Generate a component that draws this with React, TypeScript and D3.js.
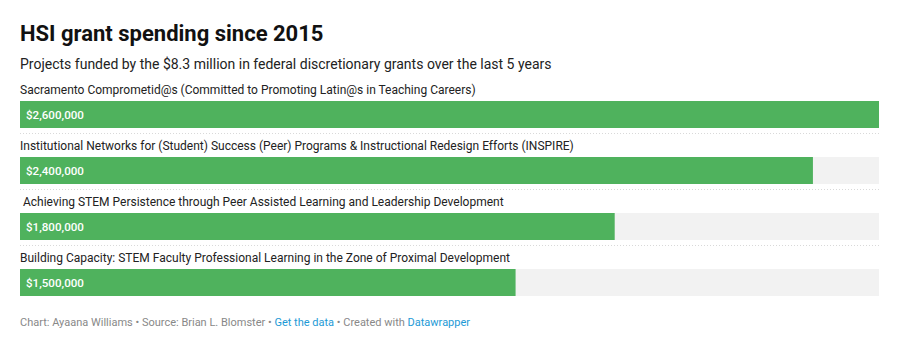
import React from 'react';
import { scaleLinear, scaleBand } from 'd3';

const width = 904;
const height = 363;
const margin = { left: 20, right: 25 };

const projects = [
  'Sacramento Comprometid@s (Committed to Promoting Latin@s in Teaching Careers)',
  'Institutional Networks for (Student) Success (Peer) Programs & Instructional Redesign Efforts (INSPIRE)',
  ' Achieving STEM Persistence through Peer Assisted Learning and Leadership Development',
  'Building Capacity: STEM Faculty Professional Learning in the Zone of Proximal Development',
];
const amounts = [2600000, 2400000, 1800000, 1500000];
const amountLabels = ['$2,600,000', '$2,400,000', '$1,800,000', '$1,500,000'];

const font = 'Roboto, sans-serif';

const App = () => {
  const innerWidth = width - margin.left - margin.right;
  const xScale = scaleLinear()
    .domain([0, Math.max(...amounts)])
    .range([0, innerWidth]);
  const rowScale = scaleBand()
    .domain(projects)
    .range([78, 302]);
  const rowH = rowScale.step();
  const barTop = 23;
  const barH = 27;

  return (
    <svg
      width={width}
      height={height}
      style={{ position: 'absolute', left: 0, top: 0, background: '#fff' }}
    >
      <text x={20} y={41} fontFamily={font} fontWeight={700} fontSize={22} fill="#111">
        HSI grant spending since 2015
      </text>
      <text x={20} y={69} fontFamily={font} fontSize={14} fill="#222">
        Projects funded by the $8.3 million in federal discretionary grants over the last 5 years
      </text>
      <g transform={`translate(${margin.left},0)`}>
        {projects.map((p, i) => {
          const y0 = rowScale(p) as number;
          return (
            <g key={p} transform={`translate(0,${y0})`}>
              <text
                x={0}
                y={16}
                fontFamily={font}
                fontSize={12}
                fill="#222"
                style={{ whiteSpace: 'pre' }}
              >
                {p}
              </text>
              <rect x={0} y={barTop} width={innerWidth} height={barH} fill="#f2f2f2" />
              <rect x={0} y={barTop} width={xScale(amounts[i])} height={barH} fill="#4fb25d" />
              <text
                x={6}
                y={barTop + barH / 2}
                dy="0.35em"
                fontFamily={font}
                fontSize={11.6}
                fontWeight={500}
                fill="#fff"
              >
                {amountLabels[i]}
              </text>
              {i < projects.length - 1 && (
                <line
                  x1={0}
                  x2={innerWidth}
                  y1={rowH - 0.5}
                  y2={rowH - 0.5}
                  stroke="#d9d9d9"
                  strokeWidth={1}
                  strokeDasharray="1,2"
                />
              )}
            </g>
          );
        })}
      </g>
      <text x={20} y={326} fontFamily={font} fontSize={11} fill="#888">
        Chart: Ayaana Williams • Source: Brian L. Blomster •{' '}
        <tspan fill="#1d9ad6">Get the data</tspan> • Created with{' '}
        <tspan fill="#1d9ad6">Datawrapper</tspan>
      </text>
    </svg>
  );
};

export default App;
